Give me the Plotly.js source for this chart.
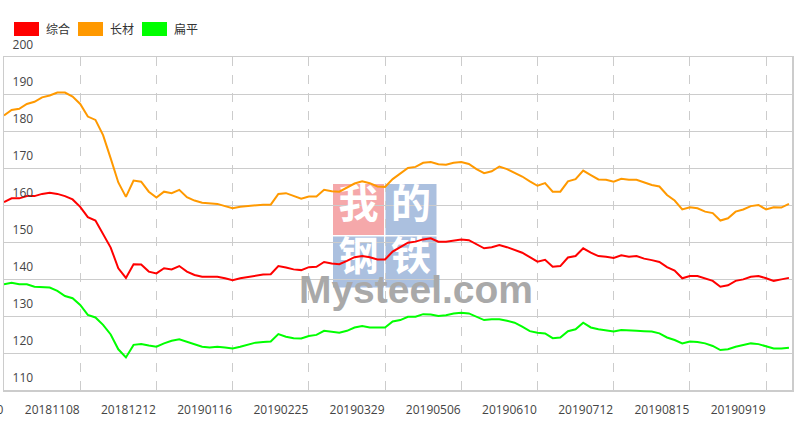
<!DOCTYPE html>
<html><head><meta charset="utf-8">
<script src="https://cdn.plot.ly/plotly-3.0.1.min.js"></script>
<style>html,body{margin:0;padding:0;background:#fff}#chart{width:800px;height:432px}</style>
</head><body><div id="chart"></div>
<script>
// ---- data ----
const seriesNames = ['综合', '长材', '扁平'];
const tickLabels = ['20181010','20181108','20181212','20190116','20190225','20190329','20190506','20190610','20190712','20190815','20190919'];
const zonghe = [
 160.8,161.8,161.8,162.4,162.4,163.0,163.3,163.0,162.4,161.5,
 159.5,156.7,155.8,152.3,148.5,142.9,140.3,144.0,143.9,142.0,
 141.5,142.9,142.6,143.5,142.0,141.1,140.6,140.6,140.6,140.2,
 139.7,140.2,140.6,141.0,141.2,141.3,143.5,143.1,142.6,142.4,
 143.2,143.3,144.6,144.2,144.0,144.9,145.9,146.2,145.9,145.3,
 145.3,147.4,148.7,149.8,150.1,150.7,151.0,150.1,150.1,150.4,
 150.7,150.5,149.5,148.3,148.6,149.2,148.6,147.8,147.1,145.9,
 144.7,145.2,143.3,143.5,145.8,146.2,148.3,147.1,146.2,146.0,
 145.7,146.4,146.0,146.2,145.5,145.1,144.6,143.2,142.3,140.2,
 140.8,140.8,140.1,139.5,137.9,138.3,139.5,139.9,140.6,140.8,
 140.2,139.5,139.9,140.3];
const changcai = [
 184.2,185.7,186.0,187.3,187.9,189.1,189.6,190.4,190.4,189.3,
 187.3,183.9,183.0,178.9,172.6,166.1,162.2,166.6,166.3,163.6,
 162.0,163.6,163.2,164.1,162.1,161.2,160.6,160.5,160.3,159.7,
 159.1,159.5,159.7,160.0,160.1,160.1,163.0,163.2,162.5,161.7,
 162.3,162.3,164.1,163.7,163.6,164.6,165.8,166.4,165.9,165.0,
 164.9,167.0,168.6,170.0,170.3,171.4,171.6,171.0,170.9,171.4,
 171.6,171.1,169.7,168.6,169.1,170.4,169.7,168.8,167.7,166.4,
 165.2,165.9,163.6,163.6,166.4,167.0,169.3,168.1,166.9,166.8,
 166.3,167.1,166.8,166.8,166.0,165.4,165.0,162.7,161.2,158.8,
 159.4,159.1,158.2,157.8,155.8,156.4,158.2,158.8,159.7,160.0,
 158.8,159.4,159.3,160.3];
const bianping = [
 138.6,139.0,138.6,138.6,137.9,137.9,137.7,136.8,135.4,134.8,
 133.0,130.3,129.6,127.6,125.0,121.0,118.8,122.2,122.4,122.0,
 121.7,122.6,123.3,123.7,123.0,122.2,121.7,121.5,121.7,121.5,
 121.2,121.7,122.3,122.8,123.0,123.1,125.1,124.4,124.0,123.9,
 124.6,124.9,126.0,125.7,125.5,126.0,126.9,127.3,126.9,126.9,
 126.9,128.5,128.9,129.8,129.8,130.5,130.4,130.0,130.2,130.7,
 130.9,130.7,129.8,128.9,129.1,129.1,128.7,128.2,127.1,125.9,
 125.5,125.3,124.0,124.2,125.9,126.4,128.2,126.9,126.4,126.0,
 125.8,126.2,126.0,126.0,125.9,125.8,125.3,124.2,123.5,122.6,
 123.1,123.0,122.6,121.9,120.8,121.0,121.7,122.1,122.6,122.4,
 121.7,121.2,121.2,121.4];
const seriesValues = [zonghe, changcai, bianping];
const seriesColors = ['#ff0000', '#ff9900', '#00ff00'];
const tickStep = 10;

// ---- geometry helpers (pixel layout of the reference) ----
const plotL = 4, plotR = 792, plotT = 57, plotB = 390;
const xRange = [0, 103.4], yRange = [110, 200];
const dataX = px => xRange[0] + (px - plotL) / (plotR - plotL) * (xRange[1] - xRange[0]);
const dataY = py => yRange[0] + (plotB - py) / (plotB - plotT) * (yRange[1] - yRange[0]);
const paperX = px => (px - plotL) / (plotR - plotL);
const paperY = py => (plotB - py) / (plotB - plotT);

// ---- watermark (drawn beneath the lines) ----
const wmChars = ['我', '的', '钢', '铁'];
const wmBoxes = [[333, 184, '#f5a8aa'], [385.5, 184, '#abc0df'], [333, 236.5, '#abc0df'], [385.5, 236.5, '#abc0df']];
const wmSize = 51;

const traces = [];
traces.push({
  type: 'scatter', mode: 'text', showlegend: false, hoverinfo: 'skip', cliponaxis: false,
  x: wmBoxes.map(b => dataX(b[0] + wmSize / 2)),
  y: wmBoxes.map(b => dataY(b[1] + wmSize / 2 - 2)),
  text: wmChars, textposition: 'middle center',
  textfont: { family: 'Noto Sans CJK SC', size: 40, color: '#ffffff', weight: 'bold' }
});
traces.push({
  type: 'scatter', mode: 'text', showlegend: false, hoverinfo: 'skip', cliponaxis: false,
  x: [dataX(416)], y: [dataY(293)], text: ['Mysteel.com'], textposition: 'middle center',
  textfont: { family: 'Liberation Sans, Arial', size: 39, color: '#a9a9a9', weight: 'bold' }
});

seriesNames.forEach((name, k) => {
  traces.push({
    type: 'scatter', mode: 'lines', name: name, showlegend: false,
    y: seriesValues[k],
    line: { color: seriesColors[k], width: 2 }
  });
});

// ---- manual legend & watermark boxes ----
const shapes = [];
const annotations = [];
const legendX = [14, 78, 142];
seriesNames.forEach((name, k) => {
  shapes.push({ type: 'rect', xref: 'paper', yref: 'paper', layer: 'above',
    x0: paperX(legendX[k]), x1: paperX(legendX[k] + 25), y0: paperY(36), y1: paperY(22),
    fillcolor: seriesColors[k], line: { width: 0 } });
  annotations.push({ xref: 'paper', yref: 'paper', x: paperX(legendX[k] + 30), y: paperY(29),
    xanchor: 'left', yanchor: 'middle', showarrow: false, text: name,
    font: { family: 'Noto Sans CJK SC', size: 12, color: '#333' } });
});
wmBoxes.forEach(b => {
  shapes.push({ type: 'rect', xref: 'paper', yref: 'paper', layer: 'between',
    x0: paperX(b[0]), x1: paperX(b[0] + wmSize), y0: paperY(b[1] + wmSize), y1: paperY(b[1]),
    fillcolor: b[2], line: { width: 0 } });
});

const tickFont = { family: 'Open Sans, Noto Sans', size: 12, color: '#444' };
const layout = {
  width: 800, height: 432,
  margin: { l: plotL, r: 800 - plotR, t: plotT, b: 432 - plotB, pad: 0 },
  paper_bgcolor: '#fff', plot_bgcolor: '#fff',
  showlegend: false,
  xaxis: {
    range: xRange, tickmode: 'array',
    tickvals: tickLabels.map((_, i) => i * tickStep), ticktext: tickLabels,
    showgrid: true, gridcolor: '#cccccc', griddash: 'dash', gridwidth: 1,
    showline: true, mirror: true, linecolor: '#cccccc', linewidth: 1.5,
    ticks: '', zeroline: false, ticklabelshift: -28, ticklabelstandoff: 8,
    ticklabeloverflow: 'allow', tickfont: tickFont, fixedrange: true
  },
  yaxis: {
    range: yRange, tickmode: 'linear', tick0: 110, dtick: 10,
    showgrid: true, gridcolor: '#cccccc', gridwidth: 1,
    showline: true, mirror: true, linecolor: '#cccccc', linewidth: 1.5,
    ticks: '', zeroline: false,
    ticklabelposition: 'inside', ticklabelshift: -12, ticklabelstandoff: 8,
    ticklabeloverflow: 'allow', tickfont: tickFont, fixedrange: true
  },
  shapes: shapes, annotations: annotations
};
Plotly.newPlot('chart', traces, layout, { displayModeBar: false, staticPlot: true });
</script>
</body></html>
